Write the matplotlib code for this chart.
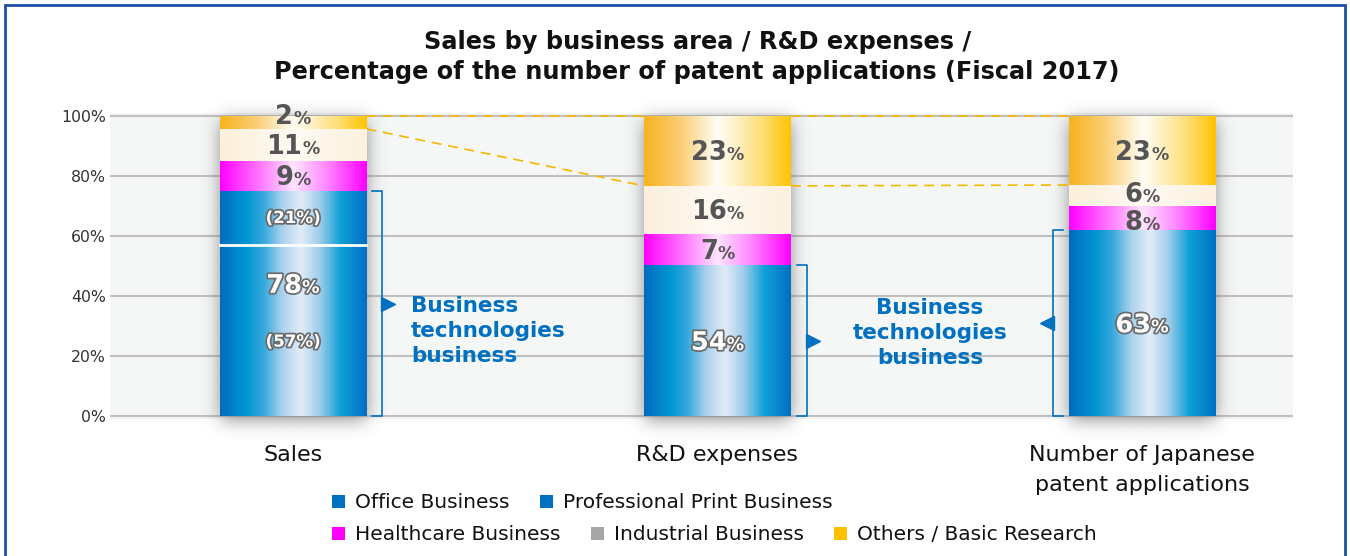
import math
import numpy as np
import matplotlib
matplotlib.use('Agg')
import matplotlib.pyplot as plt
import matplotlib.patheffects as pe
from matplotlib.colors import LinearSegmentedColormap, to_rgb
from matplotlib.patches import Patch, Rectangle


# Данные (высоты сегментов как нарисованы, и подписи)
categories = ['Sales', 'R&D expenses', 'Number of Japanese\npatent applications']
biz_tech = [75, 50.3, 62]
healthcare = [10, 10.4, 8]
industrial = [10.7, 16.0, 7]
others = [4.3, 23.3, 23]

biz_tech_pct = [78, 54, 63]
healthcare_pct = [9, 7, 8]
industrial_pct = [11, 16, 6]
others_pct = [2, 23, 23]

sales_office = 57          # white divider in the Sales bar
sales_split_pct = [57, 21]  # Office / Professional Print

legend_row1 = ['Office Business', 'Professional Print Business']
legend_row2 = ['Healthcare Business', 'Industrial Business', 'Others / Basic Research']
legend_col1 = ['#0070c0', '#0070c0']
legend_col2 = ['#ff00ff', '#a6a6a6', '#ffc000']

BLUE = '#0070c0'
W, H, DPI = 1350, 556, 100
BAR_W = 0.346
PX_X = 424.5   # px per x unit
PX_Y = 3.0     # px per percent

cm_blue = LinearSegmentedColormap.from_list('b', [
    (0, '#006cbf'), (0.18, '#0096d3'), (0.3, '#39a9dc'), (0.42, '#a9d1ec'),
    (0.55, '#e3ecf8'), (0.68, '#9fcdea'), (0.82, '#0ea0d8'), (1, '#0070c4')])
cm_orange = LinearSegmentedColormap.from_list('o', [
    (0, '#f7b31e'), (0.25, '#fbcf76'), (0.5, '#fffdf5'), (0.58, '#fff6d8'),
    (0.8, '#fedf78'), (1, '#ffc400')])
cm_mag = LinearSegmentedColormap.from_list('m', [
    (0, '#ff00ff'), (0.28, '#ff7cff'), (0.5, '#ffe4ff'), (0.72, '#ff8cff'), (1, '#ff00ff')])
cm_cream = LinearSegmentedColormap.from_list('c', [
    (0, '#fcefdb'), (0.5, '#fffaf3'), (1, '#fdf1df')])

erf = np.vectorize(math.erf)


def grad_fill(ax, x0, x1, y0, y1, cmap):
    grad = np.linspace(0, 1, 256).reshape(1, -1)
    ax.imshow(grad, cmap=cmap, extent=[x0, x1, y0, y1], aspect='auto',
              interpolation='bicubic', zorder=3)


def add_shadow(ax, x0, x1, y0, y1, pad=36, sigma=9.0):
    """Мягкая тень: прямоугольник, размытый гауссом (в пикселях)."""
    gx = np.linspace(x0 - pad / PX_X, x1 + pad / PX_X, 160)
    gy = np.linspace(y0 - pad / PX_Y, y1 + pad / PX_Y, 240)
    px = (gx - x0) * PX_X
    wpx = (x1 - x0) * PX_X
    py = (gy - y0) * PX_Y + 4
    hpx = (y1 - y0) * PX_Y
    s = sigma * math.sqrt(2)
    fx = 0.5 * (erf(px / s) - erf((px - wpx) / s))
    fy = 0.5 * (erf(py / s) - erf((py - hpx) / s))
    alpha = 0.8 * np.outer(fy, fx)
    img = np.zeros(alpha.shape + (4,))
    img[..., :3] = to_rgb('#707070')
    img[..., 3] = alpha
    ax.imshow(img, extent=[gx[0], gx[-1], gy[0], gy[-1]], origin='lower',
              aspect='auto', interpolation='bilinear', zorder=2, clip_on=False)


def pct_label(ax, x, y, num, outline=False, big=18.5, small=12.5):
    s = str(num)
    numw = len(s) * 0.696 * big
    pw = 1.0 * small
    dx = (numw - pw) / 2
    dy = -0.365 * big
    if outline:
        kw = dict(color='white', path_effects=[pe.withStroke(linewidth=2.5, foreground='#6a6a6a')])
    else:
        kw = dict(color='#555555')
    ax.annotate(s, (x, y), xytext=(dx, dy), textcoords='offset points', ha='right',
                va='baseline', fontsize=big, fontweight='bold', zorder=6, **kw)
    ax.annotate('%', (x, y), xytext=(dx, dy), textcoords='offset points', ha='left',
                va='baseline', fontsize=small, fontweight='bold', zorder=6, **kw)


fig = plt.figure(figsize=(W / DPI, H / DPI), dpi=DPI)
ax = fig.add_axes([110 / W, 1 - 419 / H, (1293 - 110) / W, (419 - 113) / H])
ax.set_facecolor('#f5f7f7')
for s in ax.spines.values():
    s.set_visible(False)

x = np.arange(len(categories))
segments = [(biz_tech, cm_blue), (healthcare, cm_mag), (industrial, cm_cream), (others, cm_orange)]
labels = [biz_tech_pct, healthcare_pct, industrial_pct, others_pct]
nudge = [0, -0.8, 0.8, 0]   # keeps labels of thin neighbouring segments apart

for i, xc in enumerate(x):
    x0, x1 = xc - BAR_W / 2, xc + BAR_W / 2
    add_shadow(ax, x0, x1, 0, 100)
    bottom = 0
    for k, (vals, cmap) in enumerate(segments):
        top = bottom + vals[i]
        grad_fill(ax, x0, x1, bottom, top, cmap)
        ymid = (bottom + top) / 2
        if k == 0:
            if i == 0:
                # Sales: Office / Professional Print split
                ax.plot([x0, x1], [sales_office, sales_office], color='white', lw=2, zorder=4)
                pct_label(ax, xc, sales_office * 0.775, labels[k][i], outline=True)
                for yy, p in [(sales_office * 0.435, sales_split_pct[0]),
                              ((sales_office + top) / 2, sales_split_pct[1])]:
                    ax.text(xc, yy, f'({p}%)', ha='center', va='center', fontsize=12,
                            fontweight='bold', color='white', zorder=6,
                            path_effects=[pe.withStroke(linewidth=2.5, foreground='#6a6a6a')])
            else:
                pct_label(ax, xc, ymid, labels[k][i], outline=True)
        else:
            if vals[i] < 6:
                ymid = top + 0.5   # tiny segment: label sits on the top edge
            elif vals[i] < 9:
                ymid += nudge[k]
            pct_label(ax, xc, ymid, labels[k][i])
        bottom = top

# dashed connectors between the "others" segments
others_bottom = [100 - v for v in others]
for i in range(len(x) - 1):
    xa, xb = x[i] + BAR_W / 2, x[i + 1] - BAR_W / 2
    for ya, yb in [(100, 100), (others_bottom[i], others_bottom[i + 1])]:
        ax.plot([xa, xb], [ya, yb], color='#f5b800', lw=1.2, dashes=(6, 4), zorder=2.5)

# brackets for Business technologies business
off = 16 / PX_X
tick = 10 / PX_X
tri = 6 / PX_X
for i, side in [(0, 1), (1, 1), (2, -1)]:
    edge = x[i] + side * BAR_W / 2
    bx = edge + side * off
    ax.plot([bx - side * tick, bx, bx, bx - side * tick], [0, 0, biz_tech[i], biz_tech[i]],
            color=BLUE, lw=1.2, zorder=4)
    ax.plot(bx + side * tri, biz_tech[i] / 2, marker='>' if side > 0 else '<',
            color=BLUE, markersize=10, zorder=4)

ax.text((411 - 110) / PX_X - 0.431, 28.3, 'Business\ntechnologies\nbusiness', ha='left',
        va='center', fontsize=15.5, fontweight='bold', color=BLUE, linespacing=1.3)
ax.text((930 - 110) / PX_X - 0.431, 27.7, 'Business\ntechnologies\nbusiness', ha='center',
        va='center', fontsize=15.5, fontweight='bold', color=BLUE, linespacing=1.3,
        multialignment='center')

ax.set_xlim(-0.431, -0.431 + (1293 - 110) / PX_X)
ax.set_ylim(-1, 101)
ax.set_yticks(np.arange(0, 101, 20))
ax.set_yticklabels([f'{v}%' for v in range(0, 101, 20)], fontsize=11.3, color='#333333')
ax.set_xticks(x)
ax.set_xticklabels(categories, fontsize=16, color='#111111', linespacing=1.6)
ax.tick_params(axis='x', length=0, pad=19)
ax.tick_params(axis='y', length=0, pad=3)
ax.grid(axis='y', color='#c0c0c0', lw=1.5, zorder=0.5)
ax.set_axisbelow(True)

fig.text(698 / W, 1 - 42 / H, 'Sales by business area / R&D expenses /', ha='center', va='center',
         fontsize=17.3, fontweight='bold', color='#111111')
fig.text(697 / W, 1 - 72 / H, 'Percentage of the number of patent applications (Fiscal 2017)',
         ha='center', va='center', fontsize=17.3, fontweight='bold', color='#111111')

for names, cols, ypx in [(legend_row1, legend_col1, 503), (legend_row2, legend_col2, 535)]:
    handles = [Patch(facecolor=c, edgecolor='none', label=n) for n, c in zip(names, cols)]
    lg = fig.legend(handles=handles, loc='center left', bbox_to_anchor=(332 / W, 1 - ypx / H),
                    ncol=len(handles), frameon=False, fontsize=14.5, handlelength=0.65,
                    handleheight=0.65, handletextpad=0.5, columnspacing=1.5, borderpad=0,
                    borderaxespad=0)
    for t in lg.get_texts():
        t.set_color('#111111')

# frame around the figure
fig.patches.append(Rectangle((5 / W, -0.05), (W - 10) / W, 1.05 - 5 / H, transform=fig.transFigure,
                             fill=False, edgecolor='#1d4fa3', lw=2, zorder=10))

fig.savefig('out.png', dpi=DPI, facecolor='white')
